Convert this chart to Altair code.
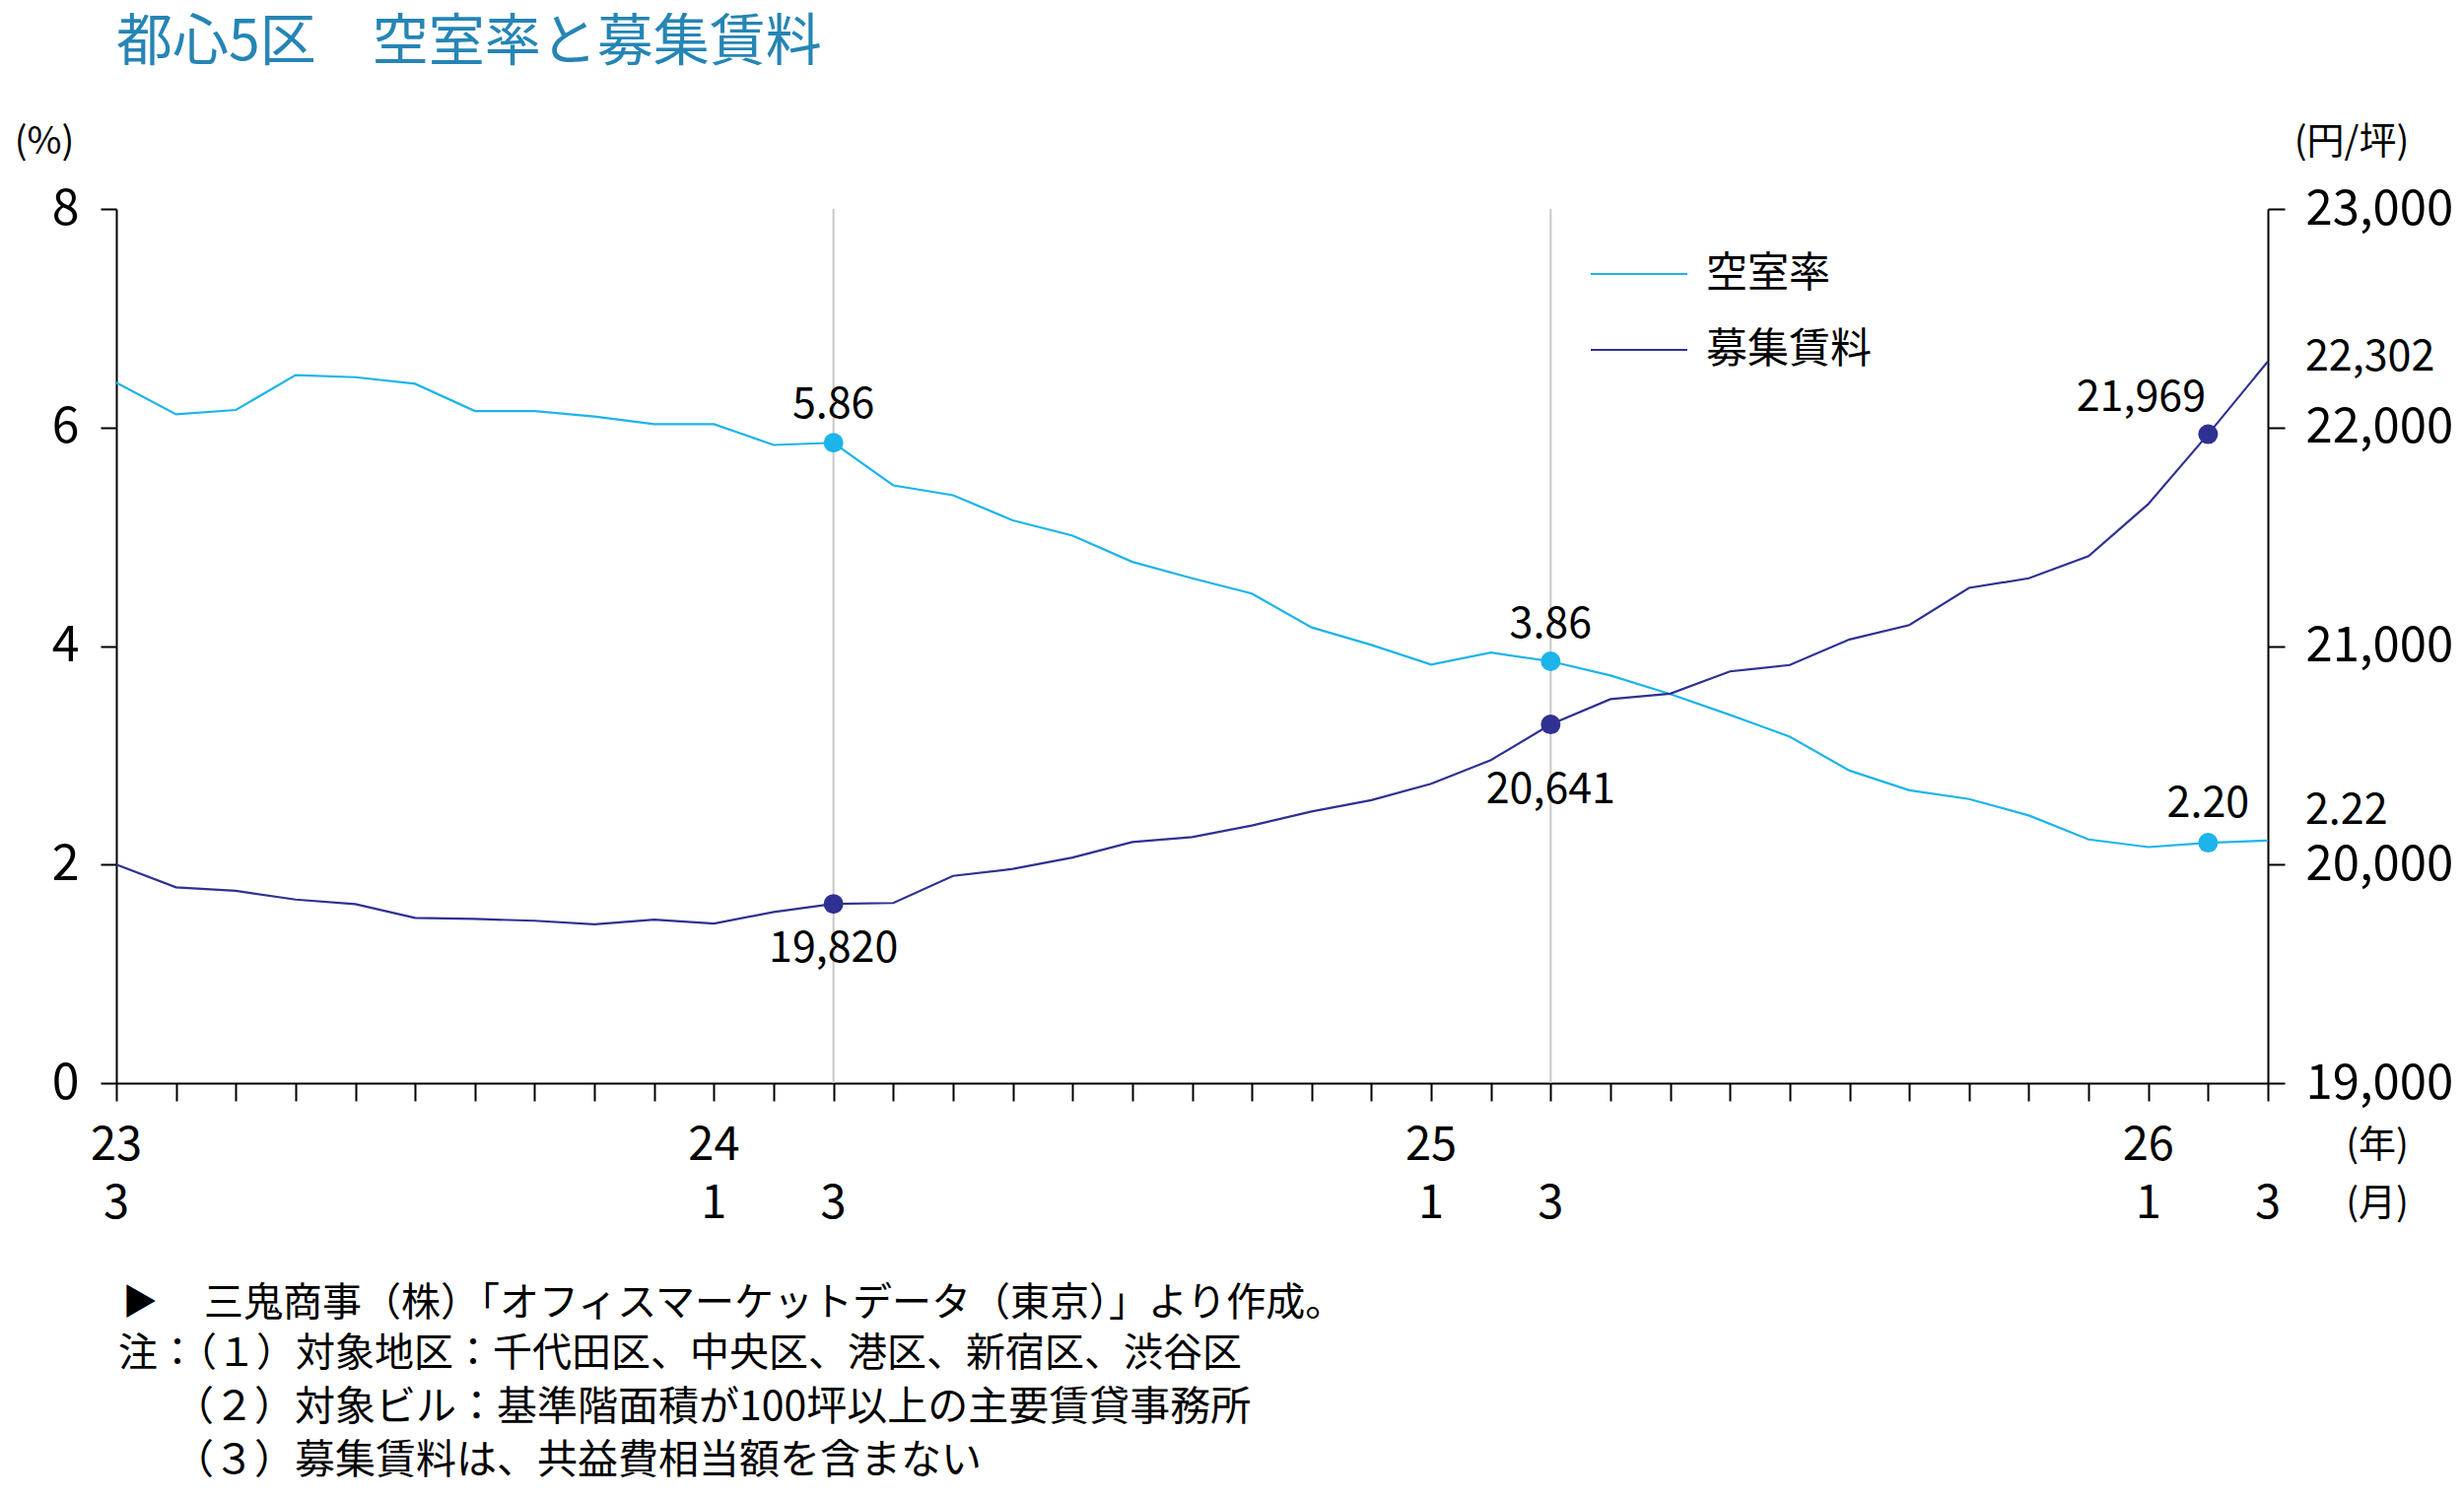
import altair as alt
import pandas as pd

FONT = "Noto Sans CJK JP, sans-serif"

TITLE = "都心5区　空室率と募集賃料"
SERIES = ["空室率", "募集賃料"]
COLORS = ["#1cb4ea", "#2e3192"]

# monthly observations, 2023/3 .. 2026/3 (index = months since 2023/3)
period = list(range(37))
vacancy = [6.41, 6.12, 6.16, 6.48, 6.46, 6.40, 6.15, 6.15, 6.10, 6.03,
           6.03, 5.84, 5.86, 5.47, 5.38, 5.15, 5.01, 4.77, 4.62, 4.48,
           4.17, 4.01, 3.83, 3.94, 3.86, 3.73, 3.56, 3.37, 3.17, 2.86,
           2.68, 2.60, 2.45, 2.23, 2.16, 2.20, 2.22]
rent = [20000, 19896, 19880, 19840, 19819, 19756, 19751, 19743, 19727, 19748,
        19730, 19783, 19820, 19824, 19948, 19980, 20032, 20103, 20126, 20179,
        20243, 20295, 20370, 20478, 20641, 20757, 20782, 20884, 20913, 21030,
        21096, 21266, 21310, 21411, 21650, 21969, 22302]

# reference months marked with vertical guides
guide_idx = [12, 24]

# x-axis labels: year row and month row
year_pos = [0, 10, 22, 34]
year_labels = ["23", "24", "25", "26"]
month_pos = [0, 10, 12, 22, 24, 34, 36]
month_labels = ["3", "1", "3", "1", "3", "1", "3"]

notes = [
    "三鬼商事（株）「オフィスマーケットデータ（東京）」より作成。",
    "注：（１）対象地区：千代田区、中央区、港区、新宿区、渋谷区",
    "（２）対象ビル：基準階面積が100坪以上の主要賃貸事務所",
    "（３）募集賃料は、共益費相当額を含まない",
]

df = pd.DataFrame({"i": period, "vacancy": vacancy, "rent": rent})
base = alt.Chart(df)

x_enc = alt.X("i:Q", scale=alt.Scale(domain=[0, 36], nice=False, zero=False),
              axis=alt.Axis(values=period, labels=False, tickSize=18, title=None,
                            grid=False))
y_left = alt.Y("vacancy:Q", scale=alt.Scale(domain=[0, 8], nice=False),
               axis=alt.Axis(orient="left", values=[0, 2, 4, 6, 8], tickSize=16,
                             labelPadding=22, labelFontSize=50, labelFont=FONT,
                             title=None, grid=False))
y_right = alt.Y("rent:Q", scale=alt.Scale(domain=[19000, 23000], nice=False, zero=False),
                axis=alt.Axis(orient="right", values=[19000, 20000, 21000, 22000, 23000],
                              labelExpr="format(datum.value, ',')", tickSize=17,
                              labelPadding=21, labelFontSize=49, labelFont=FONT,
                              title=None, grid=False))

guides = alt.Chart(pd.DataFrame({"i": guide_idx})).mark_rule(
    color="#c8c8c8", strokeWidth=2).encode(x=x_enc)

vac_line = base.mark_line(color=COLORS[0], strokeWidth=2.2).encode(x=x_enc, y=y_left)
rent_line = base.mark_line(color=COLORS[1], strokeWidth=2.2).encode(x=x_enc, y=y_right)

marked = alt.FieldOneOfPredicate(field="i", oneOf=[12, 24, 35])
vac_pts = base.transform_filter(marked).mark_circle(
    size=400, opacity=1, color=COLORS[0]).encode(x=x_enc, y=y_left)
rent_pts = base.transform_filter(marked).mark_circle(
    size=400, opacity=1, color=COLORS[1]).encode(x=x_enc, y=y_right)


def value_label(field, fmt, idx, y_enc, **kw):
    return base.transform_filter(alt.datum.i == idx).mark_text(
        font=FONT, fontSize=43, baseline="middle", color="black", **kw
    ).encode(x=x_enc, y=y_enc, text=alt.Text(f"{field}:Q", format=fmt))


vac_labels = [
    value_label("vacancy", ".2f", 12, y_left, dy=-38),
    value_label("vacancy", ".2f", 24, y_left, dy=-37),
    value_label("vacancy", ".2f", 35, y_left, dy=-39),
    value_label("vacancy", ".2f", 36, y_left, dy=-30, dx=38, align="left"),
]
rent_labels = [
    value_label("rent", ",", 12, y_right, dy=46),
    value_label("rent", ",", 24, y_right, dy=67),
    value_label("rent", ",", 35, y_right, dy=-37, dx=-68),
    value_label("rent", ",", 36, y_right, dy=-4, dx=38, align="left"),
]

left = alt.layer(guides, vac_line, vac_pts, *vac_labels)
right = alt.layer(rent_line, rent_pts, *rent_labels)


def free_text(text, x, y, size, color="black", align="left"):
    return alt.Chart(pd.DataFrame({"t": [text]})).mark_text(
        font=FONT, fontSize=size, color=color, align=align, baseline="middle"
    ).encode(text="t:N", x=alt.value(x), y=alt.value(y))


year_row = alt.Chart(pd.DataFrame({"i": year_pos, "t": year_labels})).mark_text(
    font=FONT, fontSize=47, baseline="middle").encode(x=x_enc, y=alt.value(951), text="t:N")
month_row = alt.Chart(pd.DataFrame({"i": month_pos, "t": month_labels})).mark_text(
    font=FONT, fontSize=47, baseline="middle").encode(x=x_enc, y=alt.value(1010), text="t:N")

# legend keys
legend = []
for k, (name, col) in enumerate(zip(SERIES, COLORS)):
    yy = 66 + 77 * k
    legend.append(alt.Chart(pd.DataFrame({"t": [name]})).mark_rule(
        color=col, strokeWidth=2.2).encode(x=alt.value(1496), x2=alt.value(1594), y=alt.value(yy)))
    legend.append(free_text(name, 1613, yy, 42))

extras = [
    free_text(TITLE, 0, -168, 57, color="#2585b5"),
    free_text("(%)", -73, -67, 38, align="center"),
    free_text("(円/坪)", 2268, -67, 38, align="center"),
    free_text("(年)", 2294, 951, 38, align="center"),
    free_text("(月)", 2294, 1010, 38, align="center"),
    free_text("▶", 6, 1111, 36),
    free_text(notes[0], 89, 1111, 40),
    free_text(notes[1], 2, 1162, 40),
    free_text(notes[2], 58, 1217, 41),
    free_text(notes[3], 58, 1271, 41),
]

chart = alt.layer(left, right, year_row, month_row, *legend, *extras).resolve_scale(
    y="independent"
).properties(
    width=2183, height=887,
    autosize=alt.AutoSizeParams(type="none"),
    padding={"left": 118, "top": 212, "right": 199, "bottom": 423},
    background="white",
).configure_view(stroke=None).configure_axis(
    domainColor="black", tickColor="black", labelColor="black",
    domainWidth=2, tickWidth=2, grid=False,
)

chart.save("out.html", embed_options={"renderer": "svg", "actions": False})
